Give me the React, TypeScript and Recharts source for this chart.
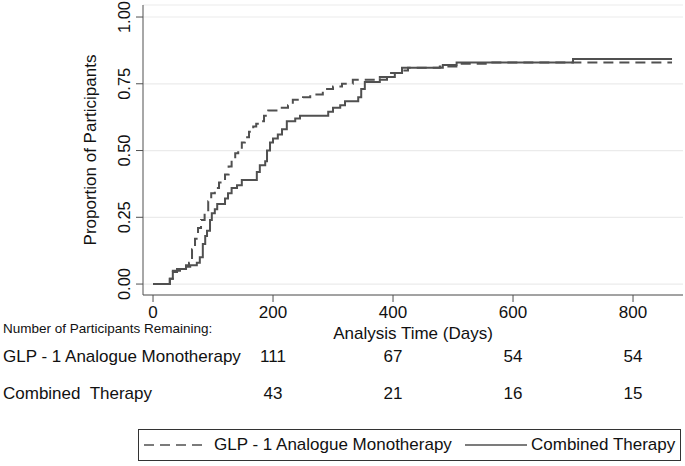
import { LineChart, Line, XAxis, YAxis, CartesianGrid } from "recharts";

// Kaplan-Meier style cumulative proportions (step starts)
const monoDays = [0, 28, 33, 45, 55, 60, 65, 70, 75, 80, 86, 92, 97, 103, 110, 120, 126, 131, 137, 142, 148, 153, 160, 167, 172, 178, 185, 192, 212, 225, 233, 250, 262, 283, 300, 315, 333, 378, 395, 412, 425, 478, 512, 562, 865];
const monoProp = [0, 0.02, 0.05, 0.06, 0.07, 0.08, 0.13, 0.17, 0.21, 0.24, 0.27, 0.31, 0.34, 0.36, 0.38, 0.41, 0.44, 0.47, 0.49, 0.51, 0.53, 0.55, 0.57, 0.59, 0.6, 0.61, 0.63, 0.65, 0.66, 0.67, 0.69, 0.7, 0.71, 0.73, 0.74, 0.75, 0.765, 0.775, 0.79, 0.8, 0.81, 0.815, 0.825, 0.83, 0.83];

const combDays = [0, 28, 33, 40, 55, 62, 73, 78, 83, 87, 90, 95, 98, 103, 107, 120, 125, 131, 140, 148, 173, 178, 187, 190, 195, 200, 208, 215, 223, 237, 245, 292, 300, 312, 320, 342, 347, 353, 378, 390, 403, 415, 483, 506, 700, 865];
const combProp = [0, 0.02, 0.045, 0.056, 0.065, 0.07, 0.08, 0.1, 0.15, 0.18, 0.2, 0.24, 0.265, 0.28, 0.3, 0.32, 0.34, 0.36, 0.37, 0.39, 0.42, 0.445, 0.46, 0.5, 0.53, 0.545, 0.56, 0.58, 0.61, 0.62, 0.63, 0.645, 0.66, 0.67, 0.685, 0.7, 0.73, 0.757, 0.765, 0.775, 0.79, 0.81, 0.82, 0.83, 0.843, 0.843];

const tickDays = [0, 200, 400, 600, 800];
const yTicks = [0, 0.25, 0.5, 0.75, 1];

// number at risk table
const riskDays = [200, 400, 600, 800];
const monoAtRisk = [111, 67, 54, 54];
const combAtRisk = [43, 21, 16, 15];

const monoLabel = "GLP - 1 Analogue Monotherapy";
const combLabel = "Combined  Therapy";
const combLegend = "Combined Therapy";

const FONT = "'Liberation Sans', Arial, Helvetica, sans-serif";
const INK = "#111";
const LINE = "#505050";

const monoData = monoDays.map((d, i) => ({ day: d, p: monoProp[i] }));
const combData = combDays.map((d, i) => ({ day: d, p: combProp[i] }));

// x tick label plus the at-risk counts that sit under it
function XTick(props: any) {
  const { x, y, payload } = props;
  const idx = riskDays.indexOf(payload.value);
  return (
    <g fontFamily={FONT} fill={INK} fontSize={17} textAnchor="middle">
      <text x={x} y={y + 16}>{payload.value}</text>
      {idx >= 0 ? <text x={x} y={y + 60}>{monoAtRisk[idx]}</text> : null}
      {idx >= 0 ? <text x={x} y={y + 97}>{combAtRisk[idx]}</text> : null}
    </g>
  );
}

function YTick(props: any) {
  const { x, y, payload } = props;
  return (
    <text
      x={x}
      y={y}
      transform={`rotate(-90 ${x} ${y})`}
      textAnchor="middle"
      fontSize={16.5}
      fill={INK}
      fontFamily={FONT}
    >
      {Number(payload.value).toFixed(2)}
    </text>
  );
}

function XTitle(props: any) {
  const vb = props.viewBox || { x: 0, y: 0, width: 0 };
  return (
    <g fontFamily={FONT} fill={INK}>
      <text x={3} y={vb.y + 38} fontSize={13.5}>
        Number of Participants Remaining:
      </text>
      <text x={vb.x + vb.width / 2} y={vb.y + 44} fontSize={17} textAnchor="middle">
        Analysis Time (Days)
      </text>
      <text x={3} y={vb.y + 67} fontSize={17} style={{ whiteSpace: "pre" }}>
        {monoLabel}
      </text>
      <text x={3} y={vb.y + 104} fontSize={17} style={{ whiteSpace: "pre" }}>
        {combLabel}
      </text>
    </g>
  );
}

function YTitle(props: any) {
  const vb = props.viewBox || { y: 0, height: 0 };
  const cy = vb.y + vb.height / 2;
  return (
    <text
      x={96}
      y={cy}
      transform={`rotate(-90 96 ${cy})`}
      textAnchor="middle"
      fontSize={17}
      fill={INK}
      fontFamily={FONT}
    >
      Proportion of Participants
    </text>
  );
}

export default function App() {
  return (
    <div style={{ position: "relative", width: 685, height: 466, background: "#fff", fontFamily: FONT }}>
      <style>{`body{margin:0}`}</style>
      <LineChart width={685} height={466} margin={{ top: 5, right: 2, bottom: 126, left: 0 }}>
        <CartesianGrid horizontal vertical={false} stroke="#ebebeb" strokeWidth={1.2} />
        <XAxis
          type="number"
          dataKey="day"
          domain={[-16.7, 883.3]}
          allowDataOverflow
          ticks={tickDays}
          interval={0}
          height={45}
          stroke={LINE}
          tickSize={7}
          tickMargin={0}
          tick={<XTick />}
          label={{ content: XTitle }}
        />
        <YAxis
          type="number"
          domain={[-0.041, 1.045]}
          allowDataOverflow
          ticks={yTicks}
          interval={0}
          width={143}
          stroke={LINE}
          tickSize={7}
          tickMargin={6}
          tick={<YTick />}
          label={{ content: YTitle }}
        />
        <Line
          data={monoData}
          dataKey="p"
          type="stepAfter"
          stroke={LINE}
          strokeWidth={2}
          strokeDasharray="10 6"
          dot={false}
          activeDot={false}
          isAnimationActive={false}
        />
        <Line
          data={combData}
          dataKey="p"
          type="stepAfter"
          stroke={LINE}
          strokeWidth={2}
          dot={false}
          activeDot={false}
          isAnimationActive={false}
        />
      </LineChart>

      {/* legend box */}
      <div
        style={{
          position: "absolute",
          left: 138,
          top: 429,
          width: 543,
          height: 32,
          border: "1px solid #333",
          boxSizing: "border-box",
          fontSize: 17,
          color: INK,
        }}
      >
        <svg width={62} height={10} style={{ position: "absolute", left: 5, top: 10 }}>
          <line x1={0} y1={5} x2={62} y2={5} stroke={LINE} strokeWidth={1.5} strokeDasharray="10 6" />
        </svg>
        <span style={{ position: "absolute", left: 75, top: 5, whiteSpace: "pre" }}>{monoLabel}</span>
        <svg width={62} height={10} style={{ position: "absolute", left: 326, top: 10 }}>
          <line x1={0} y1={5} x2={62} y2={5} stroke={LINE} strokeWidth={1.5} />
        </svg>
        <span style={{ position: "absolute", left: 392, top: 5, whiteSpace: "pre" }}>{combLegend}</span>
      </div>
    </div>
  );
}
